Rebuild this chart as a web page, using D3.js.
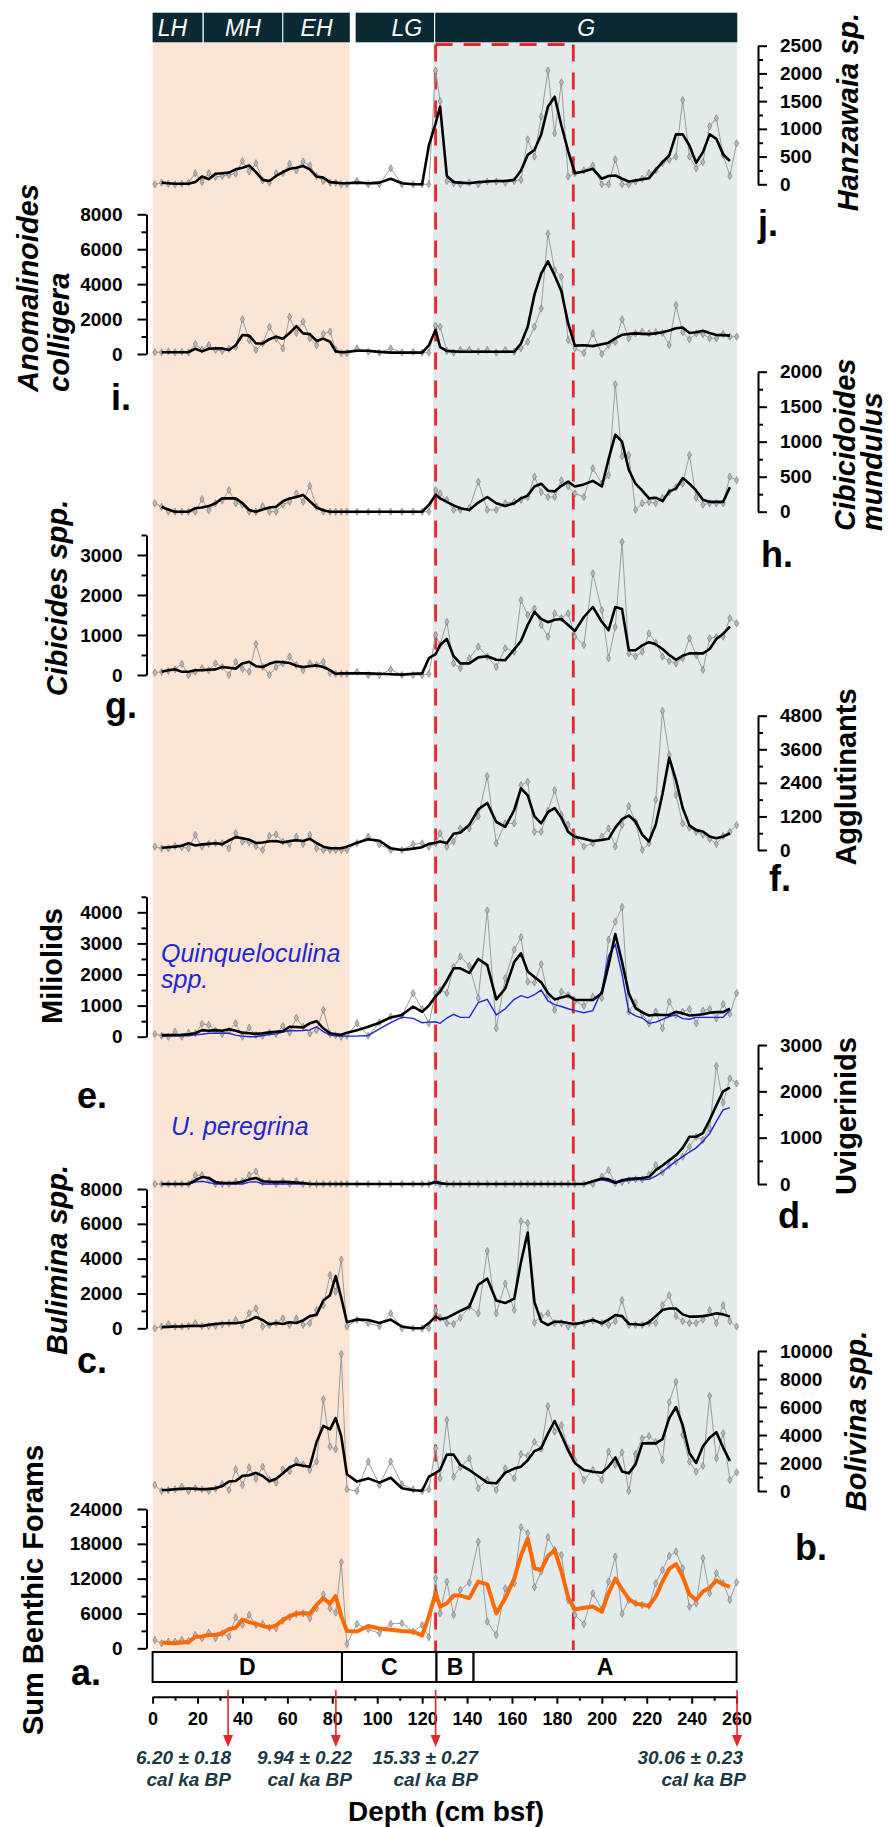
<!DOCTYPE html>
<html>
<head>
<meta charset="utf-8">
<script src="https://cdn.jsdelivr.net/npm/d3@7"></script>
<style>
  body { margin: 0; background: #fff; }
</style>
</head>
<body>
<div id="chart"></div>
<script>
// sample depths (cm bsf), shared by every record
const depth = [1,4,7,10,13,16,19,22,25,28, 31,34,37,40,43,46,49,52,55,58,
  61,64,67,70,73,76,79,81.5,84,86.5, 91,96,101,106,111,116,120,123,126,128,
  131,134,137,141,145,149,153,157,161,164, 167,170,173,176,179,182,185,188,192,196,
  200,203,206,209,212,215,218,221,224,227, 230,233,236,239,242,245,248,251,254,257, 260]

// j. Hanzawaia sp.
const hanzawaiaRaw = [0,30,10,0,10,30,200,40,200,130, 150,170,190,420,230,380,70,30,200,200,
  370,250,410,340,150,60,30,30,0,0, 60,0,0,290,0,0,0,0,2050,1500,
  60,20,0,30,0,50,50,30,60,80, 810,500,1220,2050,920,1840,140,200,250,340,
  0,0,450,0,0,50,100,200,250,380, 440,500,1520,500,290,400,1050,1190,530,150, 740]
const hanzawaiaSmooth = [null,30,20,10,10,10,40,140,90,190, 200,210,270,300,340,220,80,60,150,220,
  280,300,330,270,140,120,40,30,20,20, 30,20,30,100,20,0,0,700,1100,1400,
  150,40,30,20,40,50,60,60,80,250, 530,620,900,1400,1580,1060,600,200,230,280,
  100,150,160,100,50,70,90,110,260,400, 520,900,900,700,390,580,900,820,540,420, null]

// i. Anomalinoides colligera
const anomalinoidesRaw = [100,100,150,100,130,100,570,250,510,230, 180,300,400,1980,800,230,600,1560,900,320,
  2130,1200,1850,900,500,1150,1280,250,50,50, 320,130,80,320,100,130,80,80,1620,1560,
  180,80,230,230,150,230,80,230,130,330, 700,1560,2600,6900,4800,4420,800,330,50,1180,
  0,510,700,1980,900,1180,1280,1180,1250,1200, 510,2800,1250,840,1180,1140,900,900,1140,990, 990]
const anomalinoidesSmooth = [null,100,100,100,100,110,300,150,300,320, 320,230,500,1090,1050,600,600,850,990,870,
  1200,1600,1180,1140,750,880,700,150,100,120, 190,190,120,80,80,80,80,500,1370,400,
  180,150,130,130,130,130,130,130,130,600, 1560,3400,4600,5300,4500,3600,1750,480,500,450,
  560,650,900,1100,1150,1180,1150,1140,1180,1250, 1350,1470,1520,1200,1250,1330,1200,1090,1080,1050, null]

// h. Cibicidoides mundulus
const cibicidoidesRaw = [120,70,0,0,0,0,0,180,20,120, 160,310,120,100,0,0,80,0,0,100,
  140,260,140,370,70,0,0,0,0,0, 0,0,0,0,0,0,0,0,310,260,
  170,25,25,50,430,25,25,120,140,170, 210,500,280,210,210,450,360,260,210,620,
  400,520,1820,790,810,25,120,140,120,200, 280,350,400,810,200,100,120,120,120,500, 450]
const cibicidoidesSmooth = [null,70,30,0,0,0,50,60,80,120, 190,190,190,120,25,0,30,60,70,150,
  190,210,240,150,60,20,0,0,0,0, 0,0,0,0,0,0,0,95,240,190,
  140,90,50,25,130,210,120,80,120,190, 230,360,400,300,290,370,430,360,390,440,
  360,750,1100,1000,600,400,300,190,200,150, 290,330,480,400,300,170,140,140,140,350, null]

// g. Cibicides spp.
const cibicidesRaw = [60,80,100,140,275,0,80,170,120,290, 200,0,330,150,80,775,200,0,200,290,
  460,250,120,290,250,330,50,30,30,30, 80,0,0,140,0,0,0,30,1000,750,
  1330,290,170,420,710,460,200,670,580,1870, 1500,1660,1250,960,1540,1420,1540,960,750,2540,
  1620,420,1200,3330,540,460,580,1040,800,460, 350,290,420,920,500,125,920,950,960,1420, 1290]
const cibicidesSmooth = [null,80,120,140,80,80,120,120,130,140, 200,180,160,290,330,220,200,280,330,320,
  300,230,200,220,240,200,120,30,40,40, 40,40,30,20,10,30,40,420,520,750,
  900,470,290,290,440,470,380,370,640,850, 1250,1580,1400,1320,1380,1400,1250,1100,1450,1700,
  1330,1120,1700,1650,620,620,740,820,770,650, 500,380,480,540,540,540,650,900,1030,1210, null]

// f. Agglutinants
const agglutinantsRaw = [120,60,60,140,100,60,540,120,220,240, 240,60,600,300,280,130,0,500,560,300,
  220,480,220,540,60,0,0,0,0,0, 250,480,200,0,0,200,240,120,240,600,
  120,300,770,770,1200,2640,240,950,950,2320, 2440,650,650,1400,2140,1250,900,480,120,240,
  480,770,120,900,1570,1010,0,240,1790,4970, 3400,1970,950,800,650,550,400,210,500,650, 890]
const agglutinantsSmooth = [null,80,100,120,150,240,160,200,220,240, 210,340,460,420,370,250,270,310,320,270,
  320,350,320,400,250,120,60,60,60,120, 260,380,330,60,0,50,100,220,260,300,
  240,580,620,900,1450,1680,1000,830,1430,2200, 1950,1200,950,1350,1500,1150,650,470,400,320,
  360,400,800,1100,1230,1020,550,300,900,2000, 3300,2500,1500,880,710,660,480,420,480,600, null]

// e. Miliolids and Quinqueloculina spp.
const miliolidsRaw = [90,30,0,160,0,130,110,410,380,200, 90,190,430,0,290,50,30,130,90,350,
  130,610,320,100,210,860,80,50,0,30, 430,30,460,650,670,1400,880,430,1400,1500,
  1400,2240,2580,2280,1240,4060,270,1880,2800,3200, 1770,1740,2330,1340,860,1450,1340,1150,990,1290,
  1240,3120,3700,4170,810,1100,730,430,810,270, 1130,700,800,890,430,840,890,590,1050,730, 1400]
const miliolidsSmooth = [null,50,50,50,60,80,110,210,190,210, 190,240,190,130,110,90,110,140,160,180,
  320,310,300,430,500,270,110,80,60,130, 210,320,450,620,700,970,800,1000,1300,1450,
  1800,2200,2200,2050,2500,2300,1200,1550,2400,2680, 2100,1920,1750,1400,1200,1260,1320,1180,1180,1180,
  1400,2300,3300,2400,1400,920,780,680,710,700, 700,800,750,680,700,720,770,790,790,900, null]
const quinqueloculinaSmooth = [null,30,30,30,30,30,60,80,110,110, 110,110,50,20,0,0,40,70,90,150,
  200,190,200,220,320,160,50,30,20,20, 20,40,250,450,630,590,450,470,480,430,
  600,720,620,620,1100,1200,700,900,1200,1320, 1250,1350,1500,1150,1030,970,900,840,770,840,
  1500,2600,2960,2000,800,670,600,430,470,560, 650,700,580,560,620,620,620,620,620,860, null]

// d. Uvigerinids and U. peregrina
const uvigerinidsRaw = [0,0,0,0,0,0,190,190,90,0, 0,0,50,60,190,270,40,60,0,60,
  0,60,0,0,0,0,0,0,0,0, 0,0,0,0,0,0,0,0,40,0,
  0,0,0,0,0,0,0,0,0,0, 0,0,0,0,0,0,0,0,0,0,
  160,300,20,40,80,100,100,200,410,250, 400,480,590,800,1020,950,1200,2550,1750,2280, 2170]
const uvigerinidsSmooth = [null,0,0,0,0,0,80,150,130,40, 20,20,20,50,100,130,60,50,40,50,
  40,30,20,0,0,0,0,0,0,0, 0,0,0,0,0,0,0,0,50,20,
  0,0,0,0,0,0,0,0,0,0, 0,0,0,0,0,0,0,0,0,60,
  120,100,30,80,110,120,130,150,300,400, 510,620,780,1020,1020,1100,1380,1700,2000,2080, null]
const peregrinaSmooth = [null,0,0,0,0,0,40,60,30,0, 0,0,0,0,40,50,0,0,0,0,
  0,0,0,0,0,0,0,0,0,0, 0,0,0,0,0,0,0,0,20,0,
  0,0,0,0,0,0,0,0,0,0, 0,0,0,0,0,0,0,0,0,50,
  90,60,10,60,80,90,95,100,170,260, 380,490,590,690,780,920,1090,1350,1600,1650, null]

// c. Bulimina spp.
const buliminaRaw = [0,100,230,100,100,130,290,130,130,150, 230,300,480,200,860,1140,100,190,300,570,
  190,570,190,300,1050,1330,3050,2100,3940,100, 480,300,130,860,0,0,0,0,1050,600,
  300,250,600,1240,860,4440,860,2570,1050,6150, 6040,320,700,860,300,300,100,190,300,440,
  300,190,400,1620,200,200,200,300,300,1330, 1900,700,400,300,300,500,1050,300,1330,400, 100]
const buliminaSmooth = [null,60,80,100,110,130,130,130,200,250, 290,290,290,350,450,650,470,230,300,250,
  350,300,450,700,770,1600,1900,3000,1750,350, 510,480,300,500,100,0,0,300,670,520,
  600,800,1000,1240,2500,2850,1600,1450,1700,3800, 5500,1500,400,190,380,380,300,250,350,480,
  290,500,760,700,250,230,190,350,700,1050, 1140,1140,800,670,670,700,760,860,800,670, null]

// b. Bolivina spp.
const bolivinaRaw = [430,0,70,120,310,0,200,120,0,170, 500,70,1550,430,1690,860,1740,790,600,1550,
  1400,2170,1900,1500,2100,6550,3170,2980,9790,120, 0,2100,430,2100,480,120,0,120,3050,900,
  5070,1020,1700,2330,190,790,70,1620,900,2640, 2500,3520,3000,6070,4240,4710,3050,2210,790,1500,
  790,2810,1860,2760,0,2640,3760,3930,3500,2210, 6330,7810,4000,2100,1380,1790,6790,2330,4120,790, 1330]
const bolivinaSmooth = [null,70,80,120,150,180,150,130,150,200, 350,680,710,1080,1120,1300,1070,700,880,1250,
  1700,1900,1800,1740,3500,4650,4400,5200,3900,1200, 670,900,600,950,200,50,20,1020,1300,1500,
  2600,2600,1860,1500,1050,600,550,1310,1600,1740, 2200,2850,3050,4100,5000,4000,2900,2000,1500,1380,
  1300,1750,2400,1400,1260,1900,3400,3420,3400,3700, 5200,6000,4700,2700,2000,3200,3800,4200,3100,2150, null]

// a. Sum Benthic Forams
const benthicRaw = [1440,860,1150,1150,1440,1270,2300,1700,2700,1720, 2590,2010,5340,4020,5750,4020,4200,3560,3450,4770,
  5340,5920,6030,5170,6900,9300,6900,6150,14830,750, 4200,3280,2590,4200,4310,2870,4020,1900,12070,6030,
  11490,5750,10060,11320,18390,4600,2300,10340,11210,20860, 19830,10520,13220,19140,16950,16090,8330,5750,4200,9480,
  6720,11490,15800,5920,8330,7760,7470,7300,11210,13510, 15920,16670,13790,7180,7760,15520,9480,12930,11210,8330, 11380]
const benthicSmooth = [null,980,900,870,1000,1030,2000,2050,2300,2300, 2600,3300,3550,4950,4500,4200,3850,3600,3950,4850,
  5550,5950,6100,5950,7470,8620,7700,9000,5500,3000, 2900,3850,3400,3200,3000,2870,2200,5500,9500,7180,
  7760,9080,9080,8650,11490,11000,6000,8620,12000,16000, 18900,13790,13500,15900,16900,13300,8800,6700,7000,7200,
  6300,9500,12000,10200,8500,7700,7500,7300,8900,11500, 13700,14500,12300,9300,8300,9770,10400,11700,11000,10600, null]

// climate periods, lithological zones and dated levels
const periodNames = ['LH', 'MH', 'EH', 'LG', 'G']
const periodFrom = [0, 22.8, 58.2, 90.4, 125.8]
const periodTo = [22.2, 57.7, 87.8, 125.3, 260.3]
const zoneNames = ['D', 'C', 'B', 'A']
const zoneBounds = [0, 84.3, 126.4, 142.9, 260]
const ageDepth = [33.6, 81.6, 126, 260.2]
const ageLabel = ['6.20 \u00b1 0.18', '9.94 \u00b1 0.22', '15.33 \u00b1 0.27', '30.06 \u00b1 0.23']
const holoceneTo = 87.7
const glacialFrom = 124.8
const boxFrom = 126, boxTo = 187.3

const W = 889, H = 1827
const FONT = 'Liberation Sans, Arial, Helvetica, sans-serif'
const RED = '#e5262a'

const svg = d3.select('#chart').append('svg')
  .attr('width', W).attr('height', H)
  .style('font-family', FONT)

const x = d3.scaleLinear().domain([0, 260]).range([152.6, 736.6])

const plotTop = 42.5, plotBottom = 1652

// backgrounds
svg.append('rect').attr('x', x(0)).attr('y', plotTop)
  .attr('width', x(holoceneTo) - x(0)).attr('height', plotBottom - plotTop).attr('fill', '#fde5d5')
svg.append('rect').attr('x', x(glacialFrom)).attr('y', plotTop)
  .attr('width', x(260.2) - x(glacialFrom)).attr('height', plotBottom - plotTop).attr('fill', '#e3eaec')

// period band
const band = svg.append('g')
band.selectAll('rect').data(periodNames).join('rect')
  .attr('x', (d, i) => x(periodFrom[i]))
  .attr('width', (d, i) => x(periodTo[i]) - x(periodFrom[i]))
  .attr('y', 12.7).attr('height', 29.6).attr('fill', '#0a2932')
const bandShift = [-5, 0, 0, 12, 0]
band.selectAll('text').data(periodNames).join('text')
  .attr('x', (d, i) => (x(periodFrom[i]) + x(periodTo[i])) / 2 + bandShift[i])
  .attr('y', 35.5).attr('text-anchor', 'middle')
  .attr('fill', '#fff').attr('font-style', 'italic')
  .attr('font-family', 'Liberation Sans Narrow, Arial Narrow, ' + FONT)
  .attr('font-size', 23).text(d => d)

// red dashed box
const dash = svg.append('g').attr('stroke', RED).attr('stroke-width', 2.8)
  .attr('stroke-dasharray', '17,11').attr('fill', 'none')
dash.append('line').attr('x1', x(boxFrom)).attr('x2', x(boxTo)).attr('y1', 44.5).attr('y2', 44.5)
dash.append('line').attr('x1', x(boxFrom)).attr('x2', x(boxFrom)).attr('y1', 44.5).attr('y2', 1652)
dash.append('line').attr('x1', x(boxTo)).attr('x2', x(boxTo)).attr('y1', 44.5).attr('y2', 1650)
dash.append('line').attr('x1', x(boxFrom)).attr('x2', x(boxTo)).attr('y1', 1652.5).attr('y2', 1652.5)

const panels = [
  { raw: hanzawaiaRaw, smooth: hanzawaiaSmooth, side: 'right', zeroY: 184.3, topY: 45.7, top: 2500, axisTop: 2500,
    major: 500, minor: 250, title: ['Hanzawaia sp.'], italic: true, titleX: [848], titleY: 112, anchor: 'middle',
    letter: 'j.', letterX: 758, letterY: 236 },
  { raw: anomalinoidesRaw, smooth: anomalinoidesSmooth, side: 'left', zeroY: 354, topY: 214.3, top: 8000, axisTop: 8000,
    major: 2000, minor: 1000, title: ['Anomalinoides', 'colligera'], italic: true, titleX: [28, 59], titleY: 392, anchor: 'start',
    letter: 'i.', letterX: 111, letterY: 410 },
  { raw: cibicidoidesRaw, smooth: cibicidoidesSmooth, side: 'right', zeroY: 511.7, topY: 371.7, top: 2000, axisTop: 2000,
    major: 500, minor: 250, title: ['Cibicidoides', 'mundulus'], italic: true, titleX: [845, 872], titleY: 531, anchor: 'start',
    letter: 'h.', letterX: 761, letterY: 567 },
  { raw: cibicidesRaw, smooth: cibicidesSmooth, side: 'left', zeroY: 675, topY: 555, top: 3000, axisTop: 3500,
    major: 1000, minor: 500, title: ['Cibicides spp.'], italic: true, titleX: [57], titleY: 598, anchor: 'middle',
    letter: 'g.', letterX: 105, letterY: 718 },
  { raw: agglutinantsRaw, smooth: agglutinantsSmooth, side: 'right', zeroY: 850, topY: 715.7, top: 4800, axisTop: 4800,
    major: 1200, minor: 600, title: ['Agglutinants'], italic: false, titleX: [846], titleY: 777, anchor: 'middle',
    letter: 'f.', letterX: 769, letterY: 891 },
  { raw: miliolidsRaw, smooth: miliolidsSmooth, extra: quinqueloculinaSmooth, side: 'left', zeroY: 1036.7, topY: 912.3, top: 4000, axisTop: 4500,
    major: 1000, minor: 500, title: ['Miliolids'], italic: false, titleX: [52], titleY: 966, anchor: 'middle',
    letter: 'e.', letterX: 77, letterY: 1108 },
  { raw: uvigerinidsRaw, smooth: uvigerinidsSmooth, extra: peregrinaSmooth, side: 'right', zeroY: 1184, topY: 1045, top: 3000, axisTop: 3000,
    major: 1000, minor: 500, title: ['Uvigerinids'], italic: false, titleX: [846], titleY: 1116, anchor: 'middle',
    letter: 'd.', letterX: 778, letterY: 1228 },
  { raw: buliminaRaw, smooth: buliminaSmooth, side: 'left', zeroY: 1328.3, topY: 1189, top: 8000, axisTop: 8000,
    major: 2000, minor: 1000, title: ['Bulimina spp.'], italic: true, titleX: [57], titleY: 1260, anchor: 'middle',
    letter: 'c.', letterX: 77, letterY: 1373 },
  { raw: bolivinaRaw, smooth: bolivinaSmooth, side: 'right', zeroY: 1491, topY: 1351, top: 10000, axisTop: 10000,
    major: 2000, minor: 1000, title: ['Bolivina spp.'], italic: true, titleX: [856], titleY: 1421, anchor: 'middle',
    letter: 'b.', letterX: 795, letterY: 1560 },
  { raw: benthicRaw, smooth: benthicSmooth, side: 'left', zeroY: 1648.3, topY: 1509, top: 24000, axisTop: 24000,
    major: 6000, minor: 3000, title: ['Sum Benthic Forams'], italic: false, titleX: [33], titleY: 1590, anchor: 'middle',
    letter: 'a.', letterX: 71, letterY: 1685, color: '#ff6a00', width: 4 }
]

const marker = d3.symbol().type(d3.symbolDiamond).size(15)

panels.forEach(p => {
  const axisTopY = p.zeroY - (p.zeroY - p.topY) * p.axisTop / p.top
  const y = d3.scaleLinear().domain([0, p.axisTop]).range([p.zeroY, axisTopY])
  const pts = v => depth.map((d, i) => [d, v[i]])
  const line = d3.line().defined(d => d[1] != null).x(d => x(d[0])).y(d => y(d[1]))
  const g = svg.append('g')

  g.append('path').datum(pts(p.raw)).attr('d', line)
    .attr('fill', 'none').attr('stroke', '#9c9c9c').attr('stroke-width', 1)
  g.selectAll('.mk').data(pts(p.raw)).join('path').attr('class', 'mk')
    .attr('d', marker).attr('transform', d => `translate(${x(d[0])},${y(d[1])})`)
    .attr('fill', '#b8b8b8').attr('stroke', '#707070').attr('stroke-width', 0.6)
  if (p.extra) {
    g.append('path').datum(pts(p.extra)).attr('d', line)
      .attr('fill', 'none').attr('stroke', '#1f28cc').attr('stroke-width', 1.4)
  }
  g.append('path').datum(pts(p.smooth)).attr('d', line)
    .attr('fill', 'none').attr('stroke', p.color || '#000').attr('stroke-width', p.width || 2.6)
    .attr('stroke-linejoin', 'round')

  // y axis
  const left = p.side === 'left'
  const axisX = left ? 146.5 : 758
  const ax = (left ? d3.axisLeft(y) : d3.axisRight(y))
    .tickValues(d3.range(0, p.axisTop + 1, p.minor))
    .tickSize(9).tickSizeOuter(0).tickPadding(left ? 15 : 13)
    .tickFormat(v => v % p.major === 0 && v <= p.top ? v : '')
  const ag = svg.append('g').attr('transform', `translate(${axisX},0)`).call(ax)
  ag.select('.domain').attr('stroke-width', 2)
  ag.selectAll('.tick line').attr('stroke-width', 2)
    .attr('x2', v => (left ? -1 : 1) * (v % p.major === 0 ? 9 : 5))
  ag.selectAll('.tick text').attr('font-size', 19).attr('font-weight', 'bold')
    .attr('font-family', FONT).attr('fill', '#000')

  // title
  p.title.forEach((t, i) => {
    svg.append('text')
      .attr('transform', `translate(${p.titleX[i]},${p.titleY}) rotate(-90)`)
      .attr('text-anchor', p.anchor).attr('dy', '0.36em')
      .attr('font-size', 29).attr('font-weight', 'bold')
      .attr('font-style', p.italic ? 'italic' : 'normal')
      .text(t)
  })
  svg.append('text').attr('x', p.letterX).attr('y', p.letterY)
    .attr('font-size', 36).attr('font-weight', 'bold').text(p.letter)
})

// species notes in blue
const blueText = svg.append('g').attr('fill', '#1f28cc').attr('font-style', 'italic').attr('font-size', 25)
blueText.append('text').attr('x', 161).attr('y', 962).text('Quinqueloculina')
blueText.append('text').attr('x', 161).attr('y', 988).text('spp.')
blueText.append('text').attr('x', 171).attr('y', 1135).text('U. peregrina')

// zone boxes
const zones = svg.append('g')
zones.selectAll('rect').data(zoneNames).join('rect')
  .attr('x', (d, i) => x(zoneBounds[i])).attr('width', (d, i) => x(zoneBounds[i + 1]) - x(zoneBounds[i]))
  .attr('y', 1652).attr('height', 30).attr('fill', '#fff').attr('stroke', '#000').attr('stroke-width', 2)
zones.selectAll('text').data(zoneNames).join('text')
  .attr('x', (d, i) => (x(zoneBounds[i]) + x(zoneBounds[i + 1])) / 2).attr('y', 1675)
  .attr('text-anchor', 'middle').attr('font-size', 23).attr('font-weight', 'bold').text(d => d)

// depth axis
const xa = svg.append('g').attr('transform', 'translate(0,1696.7)')
  .call(d3.axisBottom(x).tickValues(d3.range(0, 261, 10)).tickSize(7).tickSizeOuter(0).tickPadding(9)
    .tickFormat(v => v % 20 === 0 ? v : ''))
xa.select('.domain').attr('stroke-width', 2)
xa.selectAll('.tick line').attr('stroke-width', 2).attr('y2', v => v % 20 === 0 ? 7 : 4)
xa.selectAll('.tick text').attr('font-size', 18).attr('font-weight', 'bold').attr('font-family', FONT)

// dated levels
const arrows = svg.append('g')
ageDepth.forEach((d, i) => {
  const ax0 = x(d)
  arrows.append('line').attr('x1', ax0).attr('x2', ax0).attr('y1', 1690).attr('y2', 1740)
    .attr('stroke', RED).attr('stroke-width', 1.6)
  arrows.append('path').attr('d', `M${ax0 - 5},1735 L${ax0 + 5},1735 L${ax0},1747 Z`).attr('fill', RED)
})
const ageRight = [231, 352, 478, 746]
ageLabel.forEach((t, i) => {
  const lab = arrows.append('text').attr('text-anchor', 'end').attr('fill', '#1c3844')
    .attr('font-size', 19).attr('font-weight', 'bold').attr('font-style', 'italic')
  lab.append('tspan').attr('x', ageRight[i] - (i === 3 ? 3 : 0)).attr('y', 1764).text(t)
  lab.append('tspan').attr('x', ageRight[i]).attr('y', 1786).text('cal ka BP')
})

svg.append('text').attr('x', 446).attr('y', 1821).attr('text-anchor', 'middle')
  .attr('font-size', 28).attr('font-weight', 'bold').text('Depth (cm bsf)')
</script>
</body>
</html>
